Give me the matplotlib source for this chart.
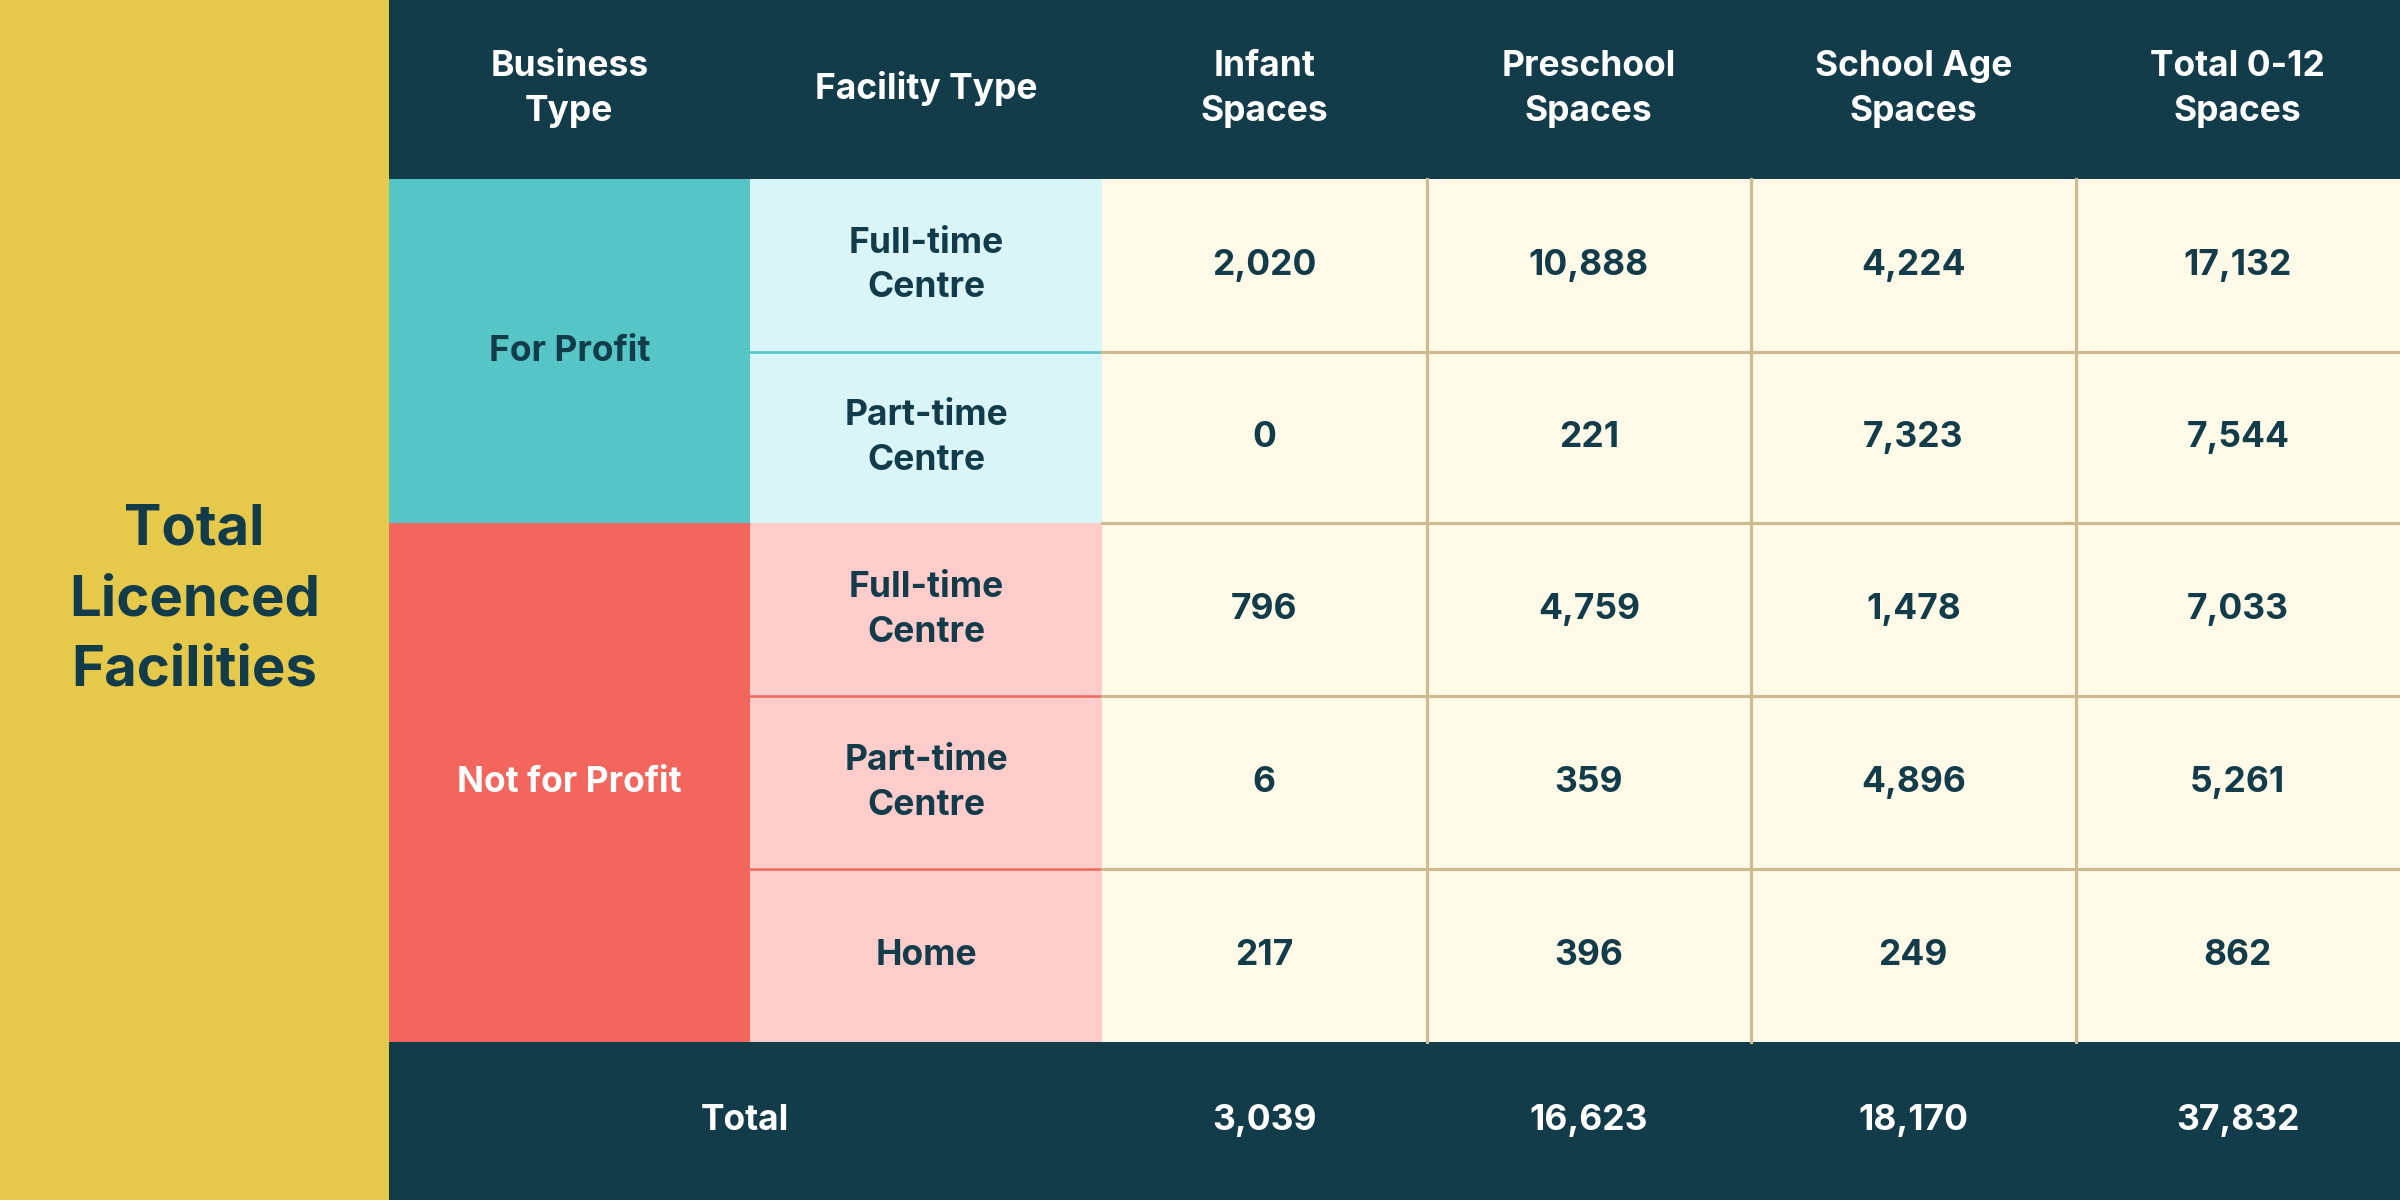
import matplotlib.pyplot as plt
from matplotlib.patches import Rectangle

headers = ["Business\nType", "Facility Type", "Infant\nSpaces", "Preschool\nSpaces", "School Age\nSpaces", "Total 0-12\nSpaces"]
business = ["For Profit", "Not for Profit"]
business_rows = [2, 3]
facility = ["Full-time\nCentre", "Part-time\nCentre", "Full-time\nCentre", "Part-time\nCentre", "Home"]
infant = ["2,020", "0", "796", "6", "217"]
preschool = ["10,888", "221", "4,759", "359", "396"]
school_age = ["4,224", "7,323", "1,478", "4,896", "249"]
total_sp = ["17,132", "7,544", "7,033", "5,261", "862"]
totals = ["3,039", "16,623", "18,170", "37,832"]

DARK = "#133C4B"
YELLOW = "#E6C84A"
TEAL = "#56C5C6"
RED = "#F2665E"
CYAN_L = "#D9F5F7"
PINK_L = "#FFCCCC"
CREAM = "#FFF9E8"
GRID = "#CDBB8F"

plt.rcParams['font.family'] = ['Inter', 'DejaVu Sans']
fig = plt.figure(figsize=(16, 8), dpi=150)
ax = fig.add_axes([0, 0, 1, 1])
ax.set_xlim(0, 1568)
ax.set_ylim(784, 0)
ax.axis("off")

xs = [254, 490, 720, 932, 1144, 1356, 1568]
ys = [117, 230, 342, 455, 568, 681]
fs = 17

def rect(x0, y0, x1, y1, c, **kw):
    ax.add_patch(Rectangle((x0, y0), x1 - x0, y1 - y0, facecolor=c, edgecolor="none", **kw))

def txt(x, y, s, c=DARK, size=fs):
    ax.text(x, y, s, ha="center", va="center", color=c, fontsize=size,
            fontweight="bold", linespacing=1.45)

rect(0, 0, 254, 784, YELLOW)
txt(127, 392, "Total\nLicenced\nFacilities", size=27)
rect(254, 0, 1568, 117, DARK)
for i, h in enumerate(headers):
    txt((xs[i] + xs[i + 1]) / 2, 58, h, c="white")

# business type blocks
r = 0
for name, n, col, lt in zip(business, business_rows, [TEAL, RED], [CYAN_L, PINK_L]):
    y0, y1 = ys[r], ys[r + n]
    rect(254, y0, 490, y1, col)
    txt(372, (y0 + y1) / 2, name, c=DARK if col == TEAL else "white")
    for k in range(n):
        rect(490, ys[r + k], 720, ys[r + k + 1], lt)
        if k > 0:
            ax.plot([490, 720], [ys[r + k]] * 2, color=col, lw=1.2)
    r += n

rect(720, 117, 1568, 681, CREAM)
for x in xs[3:-1]:
    ax.plot([x, x], [117, 681], color=GRID, lw=1.5)
for y in ys[1:-1]:
    ax.plot([720, 1568], [y, y], color=GRID, lw=1.5)

cols = [infant, preschool, school_age, total_sp]
for i in range(5):
    yc = (ys[i] + ys[i + 1]) / 2
    txt(605, yc, facility[i])
    for j, c in enumerate(cols):
        txt((xs[j + 2] + xs[j + 3]) / 2, yc, c[i])

rect(254, 681, 1568, 784, DARK)
txt(487, 732, "Total", c="white")
for j, t in enumerate(totals):
    txt((xs[j + 2] + xs[j + 3]) / 2, 732, t, c="white")

fig.savefig("out.png", dpi=150)
